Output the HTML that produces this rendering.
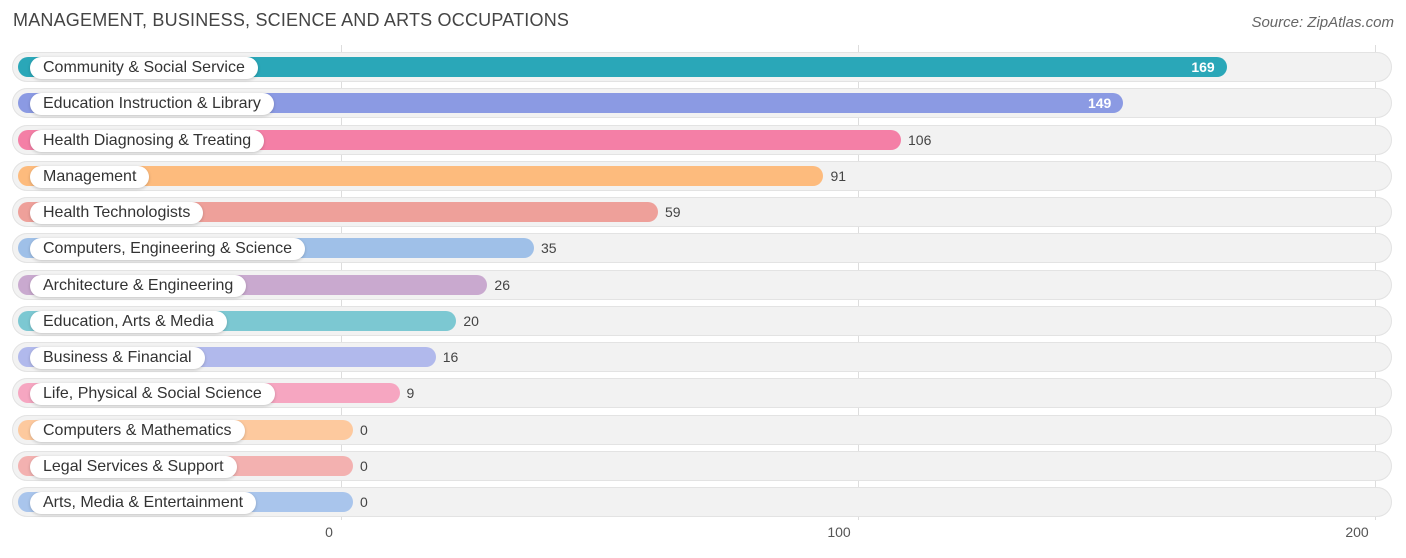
<!DOCTYPE html>
<html><head><meta charset="utf-8"><style>
body{margin:0;background:#fff;font-family:"Liberation Sans",sans-serif;}
#c{position:relative;width:1406px;height:558px;overflow:hidden;}
.title{position:absolute;left:13px;top:10px;font-size:18px;color:#444;letter-spacing:0.2px}
.src{position:absolute;right:12px;top:14px;font-size:15px;color:#666;font-style:italic}
.grid{position:absolute;top:45px;height:475px;width:1px;background:#ddd}
.tick{position:absolute;top:524px;font-size:14px;color:#555;transform:translateX(-50%)}
.row{position:absolute;left:12px;width:1380px;height:30px;border-radius:15px;background:#f2f2f2;box-shadow:inset 0 0 0 1px #e3e3e3}
.bar{position:absolute;left:6px;top:5px;height:20px;border-radius:10px}
.lab{position:absolute;left:18px;top:5px;height:22px;line-height:22px;padding:0 13px;background:#fff;border-radius:11px;font-size:16px;color:#333;box-shadow:0 1px 3px rgba(0,0,0,0.2);white-space:nowrap}
.val{position:absolute;top:6px;font-size:14px;color:#444;line-height:18px}
.val.in{color:#fff;font-weight:bold}
</style></head><body>
<div id="c">
<div class="title">MANAGEMENT, BUSINESS, SCIENCE AND ARTS OCCUPATIONS</div>
<div class="src">Source: ZipAtlas.com</div>
</div>
<script>
const categories=["Community & Social Service","Education Instruction & Library","Health Diagnosing & Treating","Management","Health Technologists","Computers, Engineering & Science","Architecture & Engineering","Education, Arts & Media","Business & Financial","Life, Physical & Social Science","Computers & Mathematics","Legal Services & Support","Arts, Media & Entertainment"];
const values=[169,149,106,91,59,35,26,20,16,9,0,0,0];
const colors=["#2aa7b8","#8b9ae3","#f47fa6","#fdbb7d","#eea09a","#9fc0e8","#c9a9cf","#7cc8d2","#b1b9ec","#f6a6c1","#fdc99e","#f3b1b0","#a9c5ec"];
const ticks=[0,100,200];
const c=document.getElementById('c');
function gx(v){return 341+v*5.17;}
function barEnd(v){return 353+v*5.17;}
ticks.forEach(t=>{
 const g=document.createElement('div');g.className='grid';g.style.left=gx(t)+'px';
 
 
 c.appendChild(g);
 const l=document.createElement('div');l.className='tick';l.style.left=(gx(t)-(t==200?18:(t==0?12:19)))+'px';l.textContent=t;
 
 
 c.appendChild(l);
});
categories.forEach((cat,i)=>{
 const y=52+i*36.25;
 const r=document.createElement('div');r.className='row';r.style.top=y+'px';
 
 
 const b=document.createElement('div');b.className='bar';
 b.style.width=(barEnd(values[i])-18)+'px';b.style.background=colors[i];
 
 
 r.appendChild(b);
 const lb=document.createElement('div');lb.className='lab';lb.textContent=cat;
 
 
 r.appendChild(lb);
 const v=document.createElement('div');v.className='val';v.textContent=values[i];
 
 
 if(values[i]>=140){v.classList.add('in');v.style.left=(barEnd(values[i])-12-12)+'px';v.style.transform='translateX(-100%)';}
 else{v.style.left=(barEnd(values[i])-12+7)+'px';}
 r.appendChild(v);
 c.appendChild(r);
});
</script>
</body></html>
